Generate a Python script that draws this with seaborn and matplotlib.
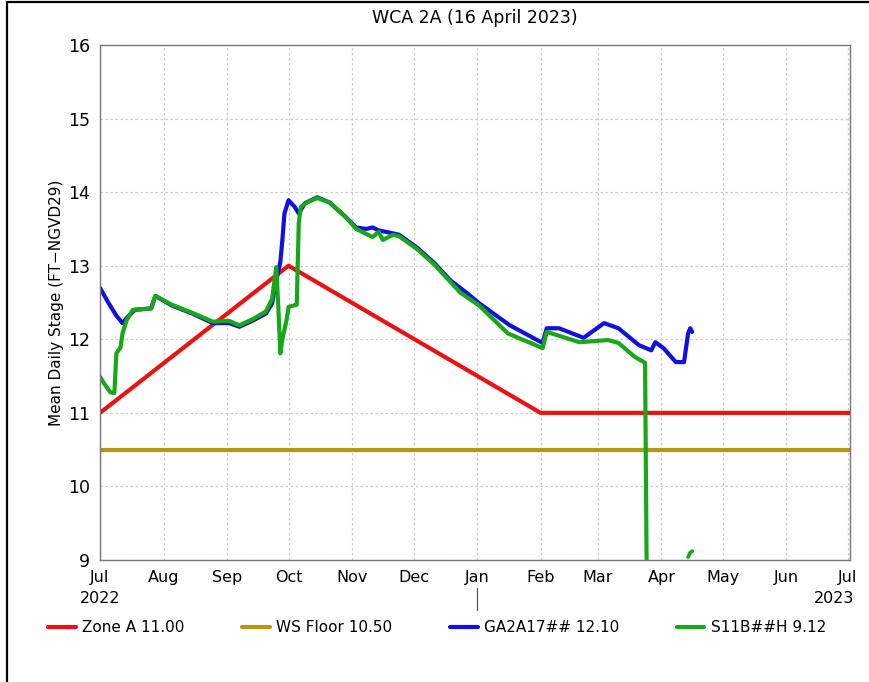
import pandas as pd
import numpy as np
import matplotlib
matplotlib.use("Agg")
import matplotlib.pyplot as plt
import matplotlib.dates as mdates
from matplotlib.patches import Rectangle
import seaborn as sns

# -----------------------------
# Data
# -----------------------------
zone_dates = ["2022-07-01", "2022-10-01", "2023-02-01", "2023-07-03"]
zone_vals = [11.0, 13.0, 11.0, 11.0]

floor_dates = ["2022-07-01", "2023-07-03"]
floor_vals = [10.5, 10.5]

ga_dates = ["2022-07-01", "2022-07-05", "2022-07-09", "2022-07-12", "2022-07-14",
            "2022-07-18", "2022-07-26", "2022-07-28", "2022-08-05", "2022-08-15",
            "2022-08-25", "2022-09-02", "2022-09-07", "2022-09-14", "2022-09-20",
            "2022-09-23", "2022-09-25", "2022-09-27", "2022-09-28", "2022-09-29",
            "2022-10-01", "2022-10-04", "2022-10-06", "2022-10-09", "2022-10-15",
            "2022-10-21", "2022-10-29", "2022-11-03", "2022-11-08", "2022-11-11",
            "2022-11-14", "2022-11-21", "2022-11-24", "2022-12-03", "2022-12-11",
            "2022-12-19", "2022-12-27", "2023-01-02", "2023-01-17", "2023-02-02",
            "2023-02-04", "2023-02-10", "2023-02-22", "2023-03-04", "2023-03-11",
            "2023-03-21", "2023-03-27", "2023-03-29", "2023-04-02", "2023-04-08",
            "2023-04-12", "2023-04-14", "2023-04-15", "2023-04-16"]
ga_vals = [12.70, 12.50, 12.32, 12.22, 12.29,
           12.40, 12.42, 12.59, 12.46, 12.35,
           12.22, 12.22, 12.17, 12.26, 12.35,
           12.49, 12.80, 13.05, 13.35, 13.71,
           13.89, 13.80, 13.71, 13.85, 13.93,
           13.86, 13.66, 13.52, 13.50, 13.52,
           13.48, 13.44, 13.42, 13.24, 13.04,
           12.80, 12.63, 12.49, 12.19, 11.95,
           12.15, 12.15, 12.02, 12.22, 12.15,
           11.92, 11.85, 11.96, 11.88, 11.69,
           11.69, 12.08, 12.15, 12.10]

s11_dates = ["2022-07-01", "2022-07-03", "2022-07-06", "2022-07-08", "2022-07-09",
             "2022-07-11", "2022-07-12", "2022-07-14", "2022-07-17", "2022-07-26",
             "2022-07-28", "2022-08-05", "2022-08-15", "2022-08-25", "2022-09-02",
             "2022-09-07", "2022-09-14", "2022-09-20", "2022-09-23", "2022-09-25",
             "2022-09-26", "2022-09-27", "2022-09-28", "2022-09-30", "2022-10-01",
             "2022-10-05", "2022-10-06", "2022-10-07", "2022-10-10", "2022-10-15",
             "2022-10-21", "2022-10-29", "2022-11-03", "2022-11-11", "2022-11-14",
             "2022-11-16", "2022-11-21", "2022-11-24", "2022-12-03", "2022-12-11",
             "2022-12-19", "2022-12-24", "2023-01-02", "2023-01-16", "2023-02-02",
             "2023-02-04", "2023-02-20", "2023-03-06", "2023-03-11", "2023-03-19",
             "2023-03-24", "2023-03-25"]
s11_vals = [11.49, 11.40, 11.28, 11.27, 11.81,
            11.89, 12.08, 12.26, 12.40, 12.42,
            12.59, 12.47, 12.36, 12.24, 12.25,
            12.19, 12.28, 12.38, 12.55, 12.98,
            12.45, 11.81, 12.00, 12.26, 12.44,
            12.47, 13.58, 13.80, 13.86, 13.92,
            13.86, 13.66, 13.50, 13.39, 13.46,
            13.35, 13.42, 13.40, 13.22, 13.02,
            12.78, 12.63, 12.46, 12.08, 11.88,
            12.10, 11.96, 11.99, 11.95, 11.76,
            11.68, 8.00]

s11_tail_dates = ["2023-04-14", "2023-04-15", "2023-04-16"]
s11_tail_vals = [9.04, 9.10, 9.12]

zone = pd.DataFrame({"date": pd.to_datetime(zone_dates), "stage": zone_vals})
floor = pd.DataFrame({"date": pd.to_datetime(floor_dates), "stage": floor_vals})
ga = pd.DataFrame({"date": pd.to_datetime(ga_dates), "stage": ga_vals})
s11 = pd.DataFrame({"date": pd.to_datetime(s11_dates), "stage": s11_vals})
s11_tail = pd.DataFrame({"date": pd.to_datetime(s11_tail_dates), "stage": s11_tail_vals})

# -----------------------------
# Plot
# -----------------------------
sns.set_style("white")
plt.rcParams["font.family"] = ["DejaVu Sans"]
plt.rcParams["text.color"] = "black"
plt.rcParams["axes.labelcolor"] = "black"
plt.rcParams["xtick.labelcolor"] = "black"
plt.rcParams["ytick.labelcolor"] = "black"

fig = plt.figure(figsize=(8.69, 6.82), dpi=100)
ax = fig.add_axes([100 / 869, 1 - 560 / 682, 750 / 869, 515 / 682])

red, gold, blue, green = "#ee1111", "#b8960f", "#1010e0", "#16a816"

sns.lineplot(data=zone, x="date", y="stage", color=red, lw=2.2, ax=ax, label="Zone A 11.00")
sns.lineplot(data=floor, x="date", y="stage", color=gold, lw=2.2, ax=ax, label="WS Floor 10.50")
sns.lineplot(data=ga, x="date", y="stage", color=blue, lw=2.7, ax=ax, label="GA2A17## 12.10")
sns.lineplot(data=s11, x="date", y="stage", color=green, lw=2.7, ax=ax, label="S11B##H 9.12")
sns.lineplot(data=s11_tail, x="date", y="stage", color=green, lw=2.7, ax=ax)

ax.set_xlim(pd.Timestamp("2022-07-01"), pd.Timestamp("2023-07-02"))
ax.set_ylim(9, 16)
ax.set_yticks(range(9, 17))

ax.xaxis.set_major_locator(mdates.MonthLocator())
ax.xaxis.set_major_formatter(mdates.DateFormatter("%b"))

ax.grid(True, color="#cccccc", linestyle=(0, (2, 2)), lw=0.9)
for s in ax.spines.values():
    s.set_color("#777777")
    s.set_linewidth(1.0)
ax.tick_params(axis="both", direction="out", length=5, width=1, color="#555555",
               labelsize=11.5, pad=2)
ax.tick_params(axis="y", labelsize=12.5)

ax.set_xlabel("")
ax.set_ylabel("Mean Daily Stage (FT\u2212NGVD29)", fontsize=11, labelpad=3)
ax.set_title("WCA 2A (16 April 2023)", fontsize=12.5, pad=16, y=1.0)
ax.title.set_position((0.5, 1.0))

# year labels and year-break marker
xt = ax.get_xaxis_transform()
ax.text(pd.Timestamp("2022-07-01"), -0.074, "2022", transform=xt, ha="center", va="center", fontsize=11.5)
ax.text(pd.Timestamp("2023-07-04"), -0.074, "2023", transform=xt, ha="right", va="center", fontsize=11.5)
ax.plot([pd.Timestamp("2023-01-01")] * 2, [-0.054, -0.097], transform=xt,
        clip_on=False, color="#555555", lw=0.9)

ax.get_legend().remove()
handles, labels = ax.get_legend_handles_labels()
for h in handles:
    h.set_linewidth(3)
fig.legend(handles, labels, loc="center", bbox_to_anchor=(437 / 869, 1 - 628 / 682),
           ncol=4, frameon=False, fontsize=11, handlelength=1.8, handletextpad=0.4,
           columnspacing=3.8)

# outer frame
fig.patches.append(Rectangle((7 / 869, -0.1), 1.2, 1 - 2 / 682 + 0.1, transform=fig.transFigure,
                             fill=False, edgecolor="black", lw=1.6))

fig.savefig("out.png", dpi=100)
